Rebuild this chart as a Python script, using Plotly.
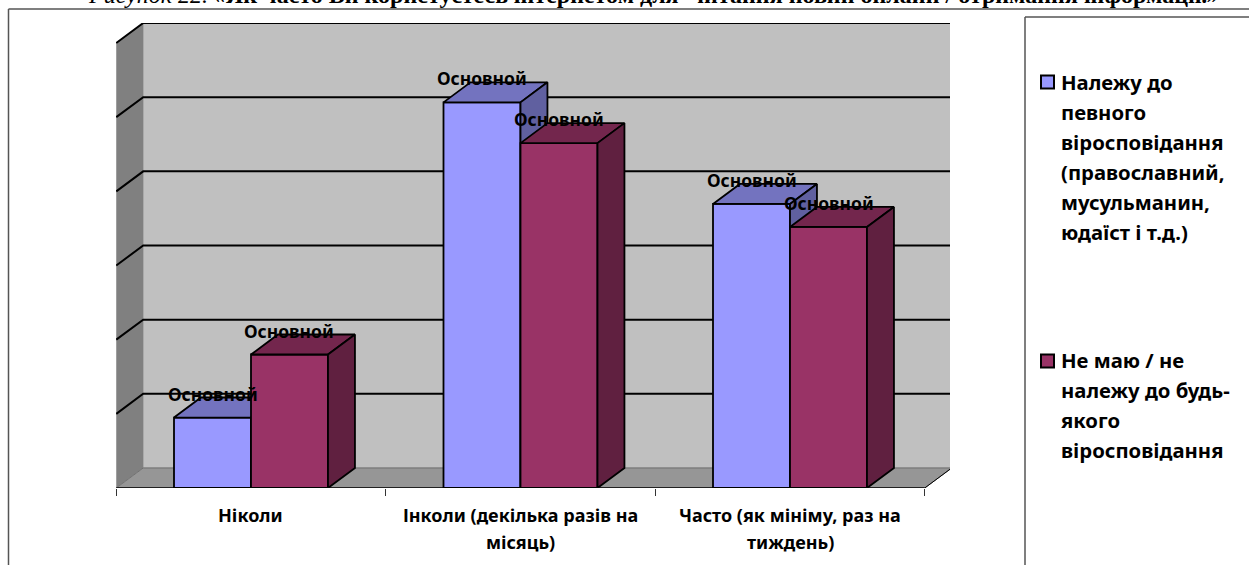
import plotly.graph_objects as go

# share of answers, %
categories = ["Ніколи", "Інколи (декілька разів на<br>місяць)", "Часто (як мініму, раз на<br>тиждень)"]
positions = [0, 1, 2]
series_names = [
    "Належу до<br>певного<br>віросповідання<br>(православний,<br>мусульманин,<br>юдаїст і т.д.)",
    "Не маю / не<br>належу до будь-<br>якого<br>віросповідання",
]
believers = [9.5, 52, 38.3]
non_believers = [18, 46.5, 35.2]
bar_label = "Основной"
grid_values = [10, 20, 30, 40, 50, 60]
caption = "<i>Рисунок 22.</i> <b><i>«</i>Як часто Ви користуєтесь інтернетом для  читання новин онлайн / отримання інформації.<i>»</i></b>"

W, H = 1249, 565
FONT = "Noto Sans"
BAR_W = 0.2857
DX, DY = 0.1, 2.7   # depth of the fake 3d, in axis units
LEFT, RIGHT = -0.5, 2.5
TOP = 60


def px(x):
    return x / W


def py(y):
    return 1 - y / H


def poly_path(pts):
    return "M " + " L ".join(f"{a},{b}" for a, b in pts) + " Z"


def add_bars(fig, values, offset, front, top, side, xa, ya):
    fig.add_trace(go.Bar(x=positions, y=values, width=BAR_W, offset=offset, xaxis=xa, yaxis=ya,
                         marker=dict(color=front, line=dict(color="black", width=1.8)),
                         showlegend=False, hoverinfo="skip"))
    # top and side faces, worked out from the bar values
    for p, v in zip(positions, values):
        x0, x1 = p + offset, p + offset + BAR_W
        fig.add_trace(go.Scatter(x=[x0, x1, x1 + DX, x0 + DX, x0], y=[v, v, v + DY, v + DY, v],
                                 mode="lines", fill="toself", fillcolor=top, xaxis=xa, yaxis=ya,
                                 line=dict(color="black", width=1.8), showlegend=False, hoverinfo="skip"))
        fig.add_trace(go.Scatter(x=[x1, x1 + DX, x1 + DX, x1, x1], y=[0, DY, v + DY, v, 0],
                                 mode="lines", fill="toself", fillcolor=side, xaxis=xa, yaxis=ya,
                                 line=dict(color="black", width=1.8), showlegend=False, hoverinfo="skip"))


fig = go.Figure()
# red goes on the overlay axes so it hides the blue side faces
add_bars(fig, believers, -BAR_W, "#9999FF", "#7373BF", "#6060A0", "x", "y")
add_bars(fig, non_believers, 0, "#993366", "#73264D", "#602040", "x2", "y2")

shapes = []
# walls and floor
shapes.append(dict(type="path", path=poly_path([(LEFT + DX, DY), (RIGHT + DX, DY), (RIGHT + DX, TOP + DY), (LEFT + DX, TOP + DY)]),
                   xref="x", yref="y", fillcolor="#C0C0C0", line=dict(color="#A8A8A8", width=1), layer="below"))
shapes.append(dict(type="path", path=poly_path([(LEFT, 0), (LEFT + DX, DY), (LEFT + DX, TOP + DY), (LEFT, TOP)]),
                   xref="x", yref="y", fillcolor="#808080", line=dict(width=0), layer="below"))
shapes.append(dict(type="path", path=poly_path([(LEFT, 0), (RIGHT, 0), (RIGHT + DX, DY), (LEFT + DX, DY)]),
                   xref="x", yref="y", fillcolor="#969696", line=dict(color="#707070", width=1), layer="below"))
for v in grid_values:
    shapes.append(dict(type="path", path=f"M {LEFT},{v} L {LEFT + DX},{v + DY} L {RIGHT + DX},{v + DY}",
                       xref="x", yref="y", line=dict(color="black", width=2), layer="below"))
# front edge of the floor
shapes.append(dict(type="line", x0=LEFT, x1=RIGHT, y0=0, y1=0, xref="x", yref="y", line=dict(color="black", width=1.5)))
shapes.append(dict(type="line", x0=RIGHT, x1=RIGHT + DX, y0=0, y1=DY, xref="x", yref="y", line=dict(color="black", width=1)))
# outer frame and legend frame
for x0, y0, x1, y1 in [(8.5, 9, W, 9), (8.5, 9, 8.5, H), (1025, 17, W, 17), (1025, 17, 1025, H)]:
    shapes.append(dict(type="line", xref="paper", yref="paper", x0=px(x0), x1=px(x1), y0=py(y0), y1=py(y1),
                       line=dict(color="#555555", width=1.5)))
# legend swatches
for y, color in [(82, "#9999FF"), (361, "#993366")]:
    shapes.append(dict(type="rect", xref="paper", yref="paper", x0=px(1041), x1=px(1054), y0=py(y - 6.5), y1=py(y + 6.5),
                       fillcolor=color, line=dict(color="black", width=2)))

annotations = []
annotations.append(dict(text=caption, xref="paper", yref="paper", x=px(653), y=py(-5), xanchor="center", yanchor="middle",
                        showarrow=False, font=dict(family="Liberation Serif", size=24, color="black")))
# labels above the bars
for values, offset in [(believers, -BAR_W / 2), (non_believers, BAR_W / 2)]:
    for p, v in zip(positions, values):
        annotations.append(dict(text=f"<b>{bar_label}</b>", x=p + offset, y=v, xref="x", yref="y", yshift=24,
                                xanchor="center", yanchor="middle", showarrow=False,
                                font=dict(family=FONT, size=17.5, color="black")))
# category labels, one annotation per line for the wide spacing
for p, cat in zip(positions, categories):
    for i, line in enumerate(cat.split("<br>")):
        annotations.append(dict(text=f"<b>{line}</b>", x=p, xref="x", y=py(515 + i * 27), yref="paper",
                                xanchor="center", yanchor="middle", showarrow=False,
                                font=dict(family=FONT, size=18, color="black")))
# legend text
for name, y0 in zip(series_names, [82, 360]):
    for i, line in enumerate(name.split("<br>")):
        annotations.append(dict(text=f"<b>{line}</b>", xref="paper", yref="paper", x=px(1059), y=py(y0 + i * 30),
                                xanchor="left", yanchor="middle", showarrow=False,
                                font=dict(family=FONT, size=20.3, color="black")))

x_range = [-0.5009, 2.5937]
y_range = [0, 62.7]
x_domain = [px(116), px(950)]
y_domain = [py(488), py(23)]

fig.update_layout(
    width=W, height=H, margin=dict(l=0, r=0, t=0, b=0),
    paper_bgcolor="white", plot_bgcolor="rgba(0,0,0,0)",
    showlegend=False, barmode="overlay",
    shapes=shapes, annotations=annotations,
    xaxis=dict(domain=x_domain, range=x_range, tickvals=[-0.5, 0.5, 1.5, 2.5], ticktext=["", "", "", ""],
               ticks="outside", ticklen=7, tickcolor="#333333", tickwidth=1, showgrid=False, zeroline=False, showline=False),
    yaxis=dict(domain=y_domain, range=y_range, showticklabels=False, ticks="", showgrid=False, zeroline=False, showline=False),
    xaxis2=dict(domain=x_domain, range=x_range, overlaying="x", visible=False),
    yaxis2=dict(domain=y_domain, range=y_range, overlaying="y", visible=False),
)

# page margin off, so the figure starts at the window corner
fig.write_html("out.html", config=dict(displayModeBar=False), post_script="document.body.style.margin='0';")
